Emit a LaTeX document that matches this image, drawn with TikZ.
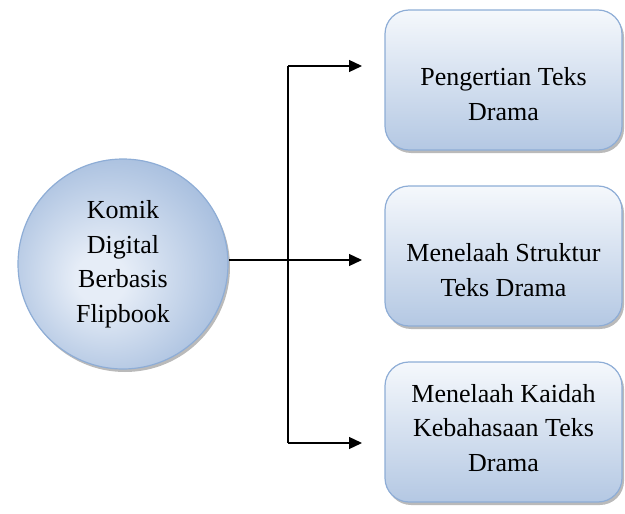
\documentclass[tikz,border=0pt]{standalone}
\usepackage{fontspec}
\setmainfont{Liberation Serif}
\usetikzlibrary{arrows.meta,shadows}
\definecolor{edgeblue}{HTML}{8EADD6}
\definecolor{topblue}{HTML}{F5F8FC}
\definecolor{botblue}{HTML}{B4C8E3}
\definecolor{innerblue}{HTML}{E6EDF7}
\definecolor{outerblue}{HTML}{A4BCDD}
% radial fill for the round node, lightest a little left of and below its centre
\pgfdeclareradialshading{hubshade}{\pgfpoint{-6bp}{-4bp}}{%
  color(0bp)=(innerblue); color(6bp)=(innerblue);
  color(30bp)=(outerblue); color(50bp)=(outerblue)}
\tikzset{
  softshadow/.style={drop shadow={shadow xshift=2pt, shadow yshift=-3pt,
    fill=black!45, opacity=0.6}},
  topicbox/.style={draw=edgeblue, line width=1.2pt, rounded corners=24pt,
    top color=topblue, bottom color=botblue,
    minimum width=237pt, minimum height=140pt, softshadow},
  boxtext/.style={align=center, inner sep=0pt,
    font=\fontsize{26}{34.5}\selectfont},
  hubcircle/.style={circle, draw=edgeblue, line width=1.2pt,
    shading=hubshade, minimum size=210pt, inner sep=0pt, align=center,
    font=\fontsize{26}{34.5}\selectfont, softshadow},
  link/.style={line width=1.3pt, -{Triangle[length=13pt,width=12pt]}},
  trunk/.style={line width=1.3pt}
}
\begin{document}
\begin{tikzpicture}[x=1pt,y=-1pt]
  \useasboundingbox (0,0) rectangle (625,514);
  % central topic
  \node[hubcircle] (hub) at (123,264) {Komik\\Digital\\Berbasis\\Flipbook};
  % the three sub-topics
  \node[topicbox] (t1) at (503.5,80) {};
  \node[topicbox] (t2) at (503.5,256) {};
  \node[topicbox] (t3) at (503.5,432) {};
  \node[boxtext] (t1txt) at (503.5,94) {Pengertian Teks\\Drama};
  \node[boxtext] (t2txt) at (503.5,270) {Menelaah Struktur\\Teks Drama};
  \node[boxtext] (t3txt) at (503.5,428) {Menelaah Kaidah\\Kebahasaan Teks\\Drama};
  % branching connector
  \coordinate (split) at (288,260);
  \coordinate (up) at (288,66);
  \coordinate (down) at (288,443);
  \draw[trunk] (split -| hub.east) -- (split);
  \draw[trunk] (up) -- (down);
  \draw[link] (up) -- (up -| 362,0);
  \draw[link] (split) -- (split -| 362,0);
  \draw[link] (down) -- (down -| 362,0);
\end{tikzpicture}
\end{document}
